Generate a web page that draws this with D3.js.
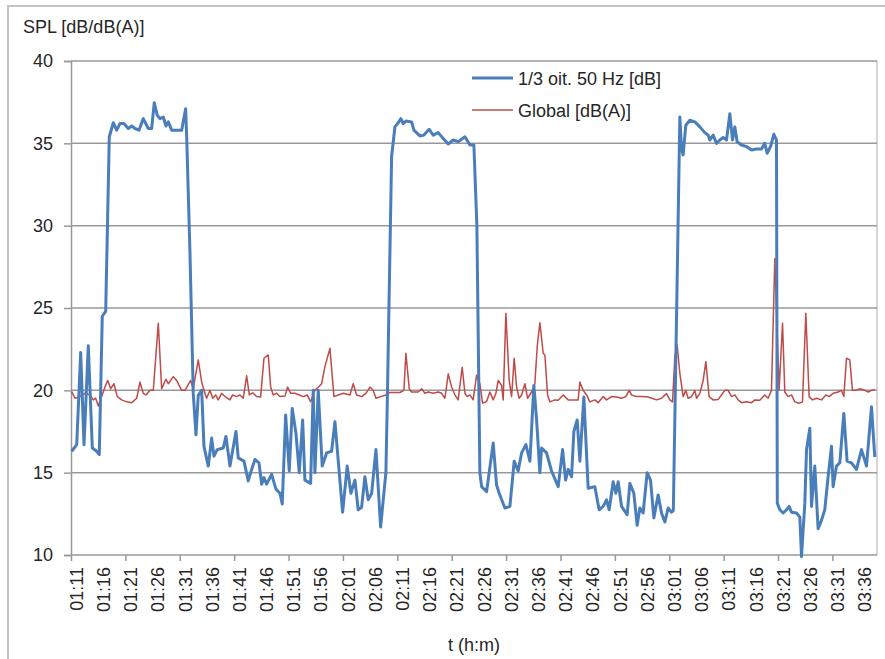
<!DOCTYPE html>
<html>
<head>
<meta charset="utf-8">
<script src="https://cdn.jsdelivr.net/npm/d3@7"></script>
<style>
  body { margin: 0; background: #fff; }
  svg text { font-family: "Liberation Sans", Arial, sans-serif; fill: #262626; }
</style>
</head>
<body>
<div id="chart"></div>
<script>
// SPL chart: 1/3 octave 50 Hz band vs global level

// time in minutes after midnight (01:11 = 71)
const blueTime = [70.13, 71.05, 71.78, 72.39, 73.18, 73.92, 74.72, 75.2, 75.75, 76.38,
  77.04, 77.78, 78.4, 79.0, 79.74, 80.53, 81.16, 81.76, 82.5, 83.29,
  84.21, 84.83, 85.31, 85.86, 86.36, 86.97, 87.46, 87.89, 88.51, 90.35,
  91.08, 91.27, 91.88, 92.48, 92.98, 93.4, 94.03, 94.45, 95.24, 95.86,
  96.29, 96.89, 98.0, 98.49, 99.23, 100.33, 100.75, 101.8, 102.59, 103.22,
  103.82, 104.56, 105.06, 105.48, 105.97, 106.89, 107.68, 108.42, 108.84, 109.47,
  110.13, 110.68, 111.36, 111.97, 112.59, 113.01, 114.06, 114.54, 114.85, 115.46,
  116.19, 117.0, 117.92, 118.53, 119.94, 120.79, 121.47, 122.21, 122.81, 123.44,
  124.04, 124.65, 125.28, 126.07, 126.93, 127.9, 128.14, 128.95, 129.56, 130.06,
  130.66, 131.08, 131.58, 132.63, 133.05, 134.15, 134.89, 135.86, 136.6, 137.52,
  138.44, 139.36, 140.28, 141.19, 142.43, 143.35, 144.08, 144.63, 145.18, 145.5,
  146.42, 147.63, 148.25, 148.73, 149.78, 150.7, 151.49, 152.22, 152.85, 153.64,
  154.38, 155.11, 155.61, 156.21, 156.53, 157.44, 158.36, 159.58, 160.39, 160.94,
  161.42, 162.04, 162.46, 163.07, 163.57, 164.3, 165.09, 166.32, 167.11, 167.85,
  168.47, 168.95, 169.69, 170.18, 170.61, 171.23, 172.26, 172.76, 173.49, 174.1,
  174.6, 175.2, 175.94, 176.56, 177.17, 177.96, 178.58, 179.19, 179.8, 180.42,
  180.75, 181.95, 182.26, 182.55, 183.05, 183.79, 184.71, 185.63, 186.54, 187.15,
  187.46, 188.07, 188.69, 189.3, 189.91, 190.53, 191.14, 191.64, 192.06, 192.48,
  193.29, 194.21, 195.13, 196.05, 196.97, 197.57, 198.0, 198.62, 199.23, 199.72,
  199.87, 200.33, 200.94, 201.56, 202.04, 202.48, 203.4, 204.01, 204.32, 204.93,
  205.24, 205.85, 206.16, 206.76, 207.37, 207.99, 208.6, 209.21, 209.83, 210.13,
  210.75, 211.36, 212.1, 212.7, 213.51, 214.43, 215.35, 216.27, 217.19, 217.79];

const blueLevel = [16.3, 16.7, 22.3, 16.7, 22.7, 16.5, 16.3, 16.1, 24.5, 24.8,
  35.4, 36.25, 35.8, 36.2, 36.2, 35.9, 36.05, 35.9, 35.8, 36.5,
  35.9, 35.9, 37.47, 36.7, 36.5, 36.6, 36.05, 36.3, 35.8, 35.8,
  37.1, 35.4, 28.3, 19.8, 17.3, 19.7, 20.0, 16.6, 15.4, 17.1,
  16.0, 16.4, 16.5, 17.2, 15.4, 17.5, 15.9, 15.7, 14.5, 15.2,
  15.8, 15.6, 14.3, 14.7, 14.3, 14.9, 14.0, 13.75, 13.1, 18.5,
  15.1, 18.9, 17.4, 15.0, 18.2, 14.55, 14.35, 20.0, 15.0, 20.0,
  15.4, 16.2, 16.3, 18.1, 12.6, 15.4, 13.75, 14.55, 12.75, 12.9,
  14.75, 13.35, 13.75, 16.4, 11.7, 15.0, 19.0, 34.2, 36.0, 36.2,
  36.5, 36.2, 36.35, 36.3, 35.8, 35.45, 35.5, 35.85, 35.5, 35.65,
  35.3, 34.96, 35.2, 35.1, 35.4, 34.9, 34.9, 30.0, 15.0, 14.15,
  13.85, 16.8, 14.25, 13.75, 12.85, 12.95, 15.7, 15.1, 16.2, 16.7,
  15.7, 20.3, 18.2, 15.0, 16.5, 16.2, 15.1, 14.15, 16.4, 14.55,
  15.2, 14.75, 17.5, 18.2, 15.7, 19.6, 14.05, 14.15, 12.75, 12.95,
  13.35, 12.75, 14.45, 13.75, 14.45, 12.95, 12.45, 14.35, 13.75, 11.8,
  12.85, 12.55, 15.0, 14.55, 12.25, 13.65, 12.55, 12.0, 12.85, 12.6,
  12.7, 36.6, 34.7, 34.3, 36.1, 36.4, 36.3, 36.0, 35.65, 35.5,
  35.2, 35.5, 35.0, 35.2, 35.35, 35.2, 36.8, 35.2, 36.0, 35.1,
  34.9, 34.8, 34.6, 34.65, 34.65, 35.0, 34.4, 34.8, 35.55, 35.2,
  13.15, 12.75, 12.55, 12.75, 12.95, 12.6, 12.55, 12.3, 9.9, 13.15,
  16.4, 17.7, 12.95, 15.4, 11.6, 12.1, 12.75, 14.75, 16.6, 14.15,
  15.4, 15.6, 18.6, 15.7, 15.6, 15.2, 16.4, 15.4, 19.0, 15.95];

const redTime = [70.13, 70.74, 71.65, 72.57, 73.49, 74.1, 74.54, 75.02, 75.64, 76.25,
  76.75, 77.3, 77.9, 78.51, 79.32, 80.24, 81.16, 82.08, 82.68, 83.29,
  83.79, 84.52, 85.13, 86.05, 86.67, 87.46, 87.89, 88.81, 89.43, 90.35,
  90.96, 92.0, 92.48, 93.4, 94.03, 94.63, 94.94, 95.55, 96.05, 96.6,
  97.08, 97.7, 98.31, 99.23, 99.72, 100.46, 101.07, 101.67, 102.3, 102.78,
  103.4, 104.14, 104.87, 105.48, 106.27, 106.71, 107.19, 107.81, 108.42, 109.34,
  109.83, 110.39, 111.18, 111.97, 112.7, 113.44, 114.06, 114.85, 115.64, 116.08,
  116.69, 117.61, 118.35, 119.14, 120.06, 121.29, 121.89, 122.52, 123.44, 124.23,
  124.96, 125.57, 126.07, 126.93, 127.9, 128.64, 130.48, 131.21, 131.58, 132.19,
  132.63, 133.84, 134.47, 135.07, 135.68, 136.6, 137.52, 138.14, 138.75, 139.36,
  139.98, 140.59, 141.19, 141.93, 142.43, 142.85, 143.35, 143.95, 144.58, 145.18,
  145.68, 146.42, 147.02, 147.63, 148.13, 148.55, 149.17, 149.47, 149.96, 150.57,
  151.01, 151.49, 151.93, 152.41, 152.85, 153.46, 153.95, 154.69, 155.29, 155.72,
  156.21, 156.82, 157.13, 157.63, 158.05, 158.97, 159.58, 160.5, 161.42, 162.33,
  163.25, 163.57, 164.17, 164.8, 165.4, 166.32, 166.93, 167.85, 168.47, 169.39,
  170.31, 171.23, 172.02, 172.63, 173.07, 173.99, 174.91, 176.12, 177.67, 178.58,
  179.5, 180.11, 180.61, 181.03, 181.45, 181.95, 182.56, 183.05, 183.47, 184.1,
  184.71, 185.02, 185.63, 186.24, 186.73, 187.33, 188.07, 188.99, 189.61, 190.22,
  190.83, 191.45, 192.06, 192.67, 193.29, 194.21, 195.13, 195.74, 196.65, 197.57,
  198.18, 198.8, 199.41, 200.2, 200.83, 201.25, 201.86, 202.48, 203.09, 203.88,
  204.5, 205.11, 205.72, 206.34, 207.08, 207.99, 208.79, 209.39, 210.13, 211.05,
  211.67, 212.1, 212.59, 213.2, 213.69, 214.43, 215.04, 215.96, 216.6, 217.19,
  217.79];

const redLevel = [19.92, 19.52, 19.62, 19.82, 19.72, 19.42, 19.52, 19.05, 19.62, 20.2,
  20.6, 20.1, 20.4, 19.62, 19.42, 19.3, 19.25, 19.52, 20.5, 19.82,
  19.72, 20.0, 20.0, 24.07, 20.1, 20.67, 20.4, 20.83, 20.6, 20.0,
  20.0, 20.6, 20.1, 21.85, 20.5, 19.82, 19.52, 20.0, 19.52, 19.72,
  19.42, 19.82, 19.62, 19.42, 19.72, 19.62, 19.72, 19.52, 20.88, 19.72,
  19.85, 19.62, 19.6, 21.95, 22.15, 20.2, 19.72, 19.82, 19.62, 19.65,
  20.2, 19.82, 19.82, 19.72, 19.62, 19.72, 19.3, 20.0, 20.25, 20.4,
  21.44, 22.55, 19.62, 19.72, 19.82, 19.72, 20.4, 19.72, 19.62, 19.82,
  20.2, 20.0, 19.52, 19.62, 19.72, 19.87, 19.87, 20.0, 22.25, 20.1,
  19.9, 19.9, 20.1, 19.82, 19.9, 19.82, 19.9, 19.82, 19.52, 21.0,
  20.2, 19.72, 19.42, 21.4, 19.82, 19.62, 19.72, 19.42, 20.93, 20.4,
  19.22, 19.32, 19.9, 19.42, 19.82, 20.6, 20.3, 19.42, 24.68, 20.6,
  19.62, 21.95, 20.2, 19.52, 19.72, 20.4, 19.52, 19.9, 20.4, 22.65,
  24.11, 22.25, 22.15, 19.72, 19.3, 19.42, 19.4, 19.72, 19.42, 19.42,
  19.42, 20.5, 20.0, 19.72, 19.3, 19.42, 19.25, 19.62, 19.42, 19.62,
  19.6, 19.52, 19.62, 20.0, 19.72, 19.62, 19.62, 19.6, 19.42, 19.52,
  19.8, 19.42, 19.3, 22.05, 22.75, 21.03, 19.62, 20.0, 19.52, 19.62,
  20.0, 19.52, 19.82, 20.6, 21.74, 19.62, 19.42, 19.45, 19.72, 20.0,
  20.0, 19.62, 19.72, 19.42, 19.25, 19.3, 19.25, 19.42, 19.4, 19.72,
  19.52, 20.0, 28.0, 20.0, 24.07, 19.9, 19.62, 19.72, 19.3, 19.22,
  19.3, 24.68, 19.62, 19.42, 19.52, 19.42, 19.72, 19.62, 19.82, 19.9,
  20.0, 19.62, 21.95, 21.85, 20.0, 20.0, 20.1, 20.0, 19.9, 20.0,
  20.05];

// tick labels every 5 minutes, tick marks every 10 minutes
const labelMinutes = d3.range(71, 217, 5);
const tickMinutes = d3.range(70, 211, 10);
const yTicks = [10, 15, 20, 25, 30, 35, 40];

const seriesNames = ['1/3 oit. 50 Hz [dB]', 'Global [dB(A)]'];
const seriesColors = ['#4a7ebb', '#be4b48'];

const width = 885;
const height = 659;

const svg = d3.select('#chart')
  .append('svg')
  .attr('width', width)
  .attr('height', height);

// outer chart border
svg.append('rect')
  .attr('x', 8)
  .attr('y', 6)
  .attr('width', 890)
  .attr('height', 670)
  .attr('fill', 'none')
  .attr('stroke', '#c4c4c4')
  .attr('stroke-width', 2);

const x = d3.scaleLinear().domain([70, 218.2]).range([71, 877]);
const y = d3.scaleLinear().domain([10, 40]).range([555, 61]);

function fmtTime(m) {
  const h = Math.floor(m / 60);
  const mm = m % 60;
  return String(h).padStart(2, '0') + ':' + String(mm).padStart(2, '0');
}

// plot area right border
svg.append('line')
  .attr('x1', 877).attr('x2', 877)
  .attr('y1', 61).attr('y2', 555)
  .attr('stroke', '#c8c8c8')
  .attr('stroke-width', 1.5);

// horizontal gridlines
svg.append('g')
  .selectAll('line')
  .data(yTicks.filter(d => d > 10))
  .enter()
  .append('line')
  .attr('x1', 71).attr('x2', 877)
  .attr('y1', d => y(d)).attr('y2', d => y(d))
  .attr('stroke', '#999')
  .attr('stroke-width', 1.5);

// y axis
const yAxis = svg.append('g').attr('transform', 'translate(71,0)')
  .call(d3.axisLeft(y).tickValues(yTicks).tickSize(7).tickPadding(11));
yAxis.select('.domain').attr('stroke', '#999').attr('stroke-width', 1.5);
yAxis.selectAll('.tick line').attr('stroke', '#999').attr('stroke-width', 1.5);
yAxis.selectAll('.tick text')
  .attr('font-size', 18)
  .attr('font-family', '"Liberation Sans", Arial, sans-serif')
  .attr('fill', '#262626');

// x axis line and tick marks
const xAxis = svg.append('g').attr('transform', 'translate(0,555)')
  .call(d3.axisBottom(x).tickValues(tickMinutes).tickSize(6).tickFormat(''));
xAxis.select('.domain').attr('stroke', '#999').attr('stroke-width', 1.5)
  .attr('d', 'M71,0H877');
xAxis.selectAll('.tick line').attr('stroke', '#999').attr('stroke-width', 1.5);

// rotated time labels
svg.append('g')
  .selectAll('text')
  .data(labelMinutes)
  .enter()
  .append('text')
  .attr('transform', d => `translate(${x(d)},567) rotate(-90)`)
  .attr('text-anchor', 'end')
  .attr('dy', '0.35em')
  .attr('font-size', 18)
  .text(d => fmtTime(d));

// series lines
const line = d3.line()
  .x(d => x(d[0]))
  .y(d => y(d[1]));

const redData = redTime.map((t, i) => [t, redLevel[i]]);
const blueData = blueTime.map((t, i) => [t, blueLevel[i]]);

svg.append('path')
  .datum(redData)
  .attr('d', line)
  .attr('fill', 'none')
  .attr('stroke', seriesColors[1])
  .attr('stroke-width', 1.5)
  .attr('stroke-linejoin', 'round');

svg.append('path')
  .datum(blueData)
  .attr('d', line)
  .attr('fill', 'none')
  .attr('stroke', seriesColors[0])
  .attr('stroke-width', 3)
  .attr('stroke-linejoin', 'round');

// axis titles
svg.append('text')
  .attr('x', 23).attr('y', 33)
  .attr('font-size', 18)
  .text('SPL [dB/dB(A)]');

svg.append('text')
  .attr('x', 448).attr('y', 651)
  .attr('font-size', 18)
  .text('t (h:m)');

// legend
const legend = svg.append('g');
const legendY = [78, 110];
seriesNames.forEach((name, i) => {
  legend.append('line')
    .attr('x1', 472).attr('x2', 513)
    .attr('y1', legendY[i]).attr('y2', legendY[i])
    .attr('stroke', seriesColors[i])
    .attr('stroke-width', i === 0 ? 3 : 1.5);
  legend.append('text')
    .attr('x', 518).attr('y', legendY[i] + 7)
    .attr('font-size', 18)
    .text(name);
});
</script>
</body>
</html>
